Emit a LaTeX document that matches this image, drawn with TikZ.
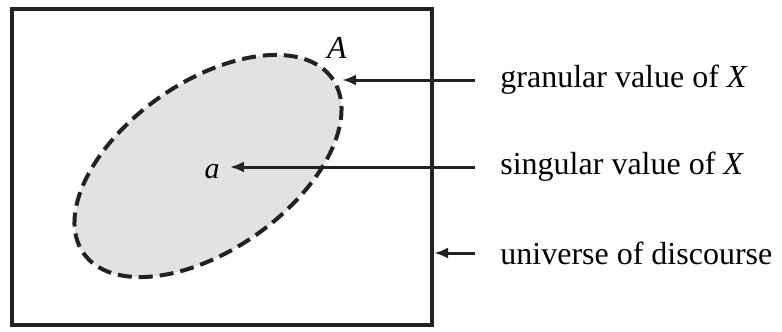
\documentclass[tikz,border=0pt]{standalone}
\usepackage{fontspec}
\setmainfont{Liberation Serif}
\usepackage{xcolor}
\usetikzlibrary{arrows.meta,shapes.geometric}
\definecolor{ink}{HTML}{222222}
\definecolor{setgray}{HTML}{E1E2E4}

\begin{document}
\begin{tikzpicture}[x=0.5pt,y=-0.5pt,>={Latex[length=7pt,width=5.5pt]},
  lbl/.style={anchor=west,inner xsep=12.5pt,inner ysep=0pt,font=\fontsize{16}{19}\selectfont},
  pointer/.style={->,draw=ink,line width=1.5pt}]
\useasboundingbox (0,0) rectangle (782,332);
\node[draw=ink,line width=2pt,minimum width=210pt,minimum height=158pt,inner sep=0pt] (universe) at (222,167) {};
\node[ellipse,draw=ink,fill=setgray,line width=2pt,dash pattern=on 7pt off 3.5pt,rotate=35,minimum width=152pt,minimum height=84pt,inner sep=0pt] (setA) at (208,166) {};
\node[font=\fontsize{16}{19}\selectfont\itshape] (nameA) at (337,48) {A};
\node[font=\fontsize{15}{18}\selectfont\itshape,inner xsep=5pt] (pt) at (212,172) {a};
\coordinate (tipA) at (342,80);
\node[lbl] (gran) at (475,80) {granular value of \textit{X}};
\node[lbl] (sing) at (475,167) {singular value of \textit{X}};
\node[lbl] (univ) at (475,253) {universe of discourse};
\draw[pointer] (gran.west)--(tipA);
\draw[pointer] (sing.west)--(sing.west -| pt.east);
\draw[pointer] (univ.west)--(univ.west -| universe.east);
\end{tikzpicture}
\end{document}
